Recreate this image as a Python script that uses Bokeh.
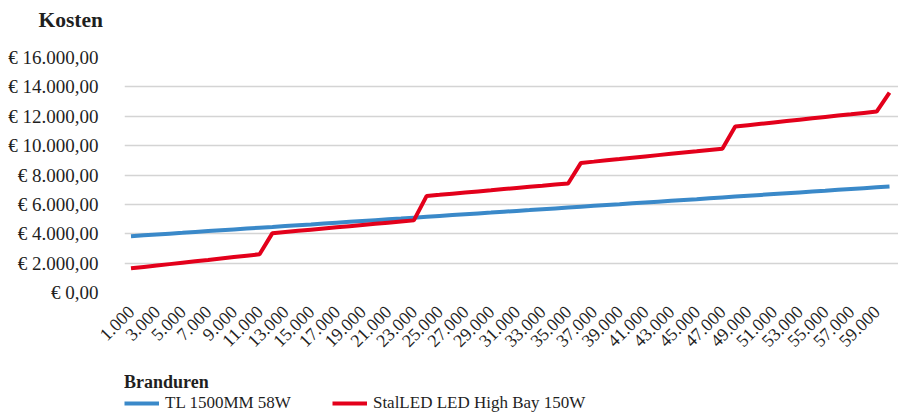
import math
from bokeh.plotting import figure
from bokeh.layouts import column
from bokeh.models import (FixedTicker, Legend, LegendItem, Range1d, Title,
                          ColumnDataSource)
from bokeh.embed import file_html
from bokeh.resources import INLINE

# ---- data -------------------------------------------------------------
hours = list(range(1000, 61000, 1000))          # categories (branduren)
tl_1500mm_58w = [
    3836, 3893, 3951, 4008, 4065, 4123, 4180, 4237, 4294, 4352,
    4409, 4466, 4524, 4581, 4638, 4696, 4753, 4810, 4867, 4925,
    4982, 5039, 5097, 5154, 5211, 5269, 5326, 5383, 5440, 5498,
    5555, 5612, 5670, 5727, 5784, 5842, 5899, 5956, 6013, 6071,
    6128, 6185, 6243, 6300, 6357, 6415, 6472, 6529, 6586, 6644,
    6701, 6758, 6816, 6873, 6930, 6988, 7045, 7102, 7159, 7217,
]
stalled_150w = [
    1644, 1740, 1836, 1932, 2028, 2124, 2219, 2315, 2411, 2507,
    2603, 4041, 4120, 4199, 4278, 4357, 4436, 4516, 4595, 4674,
    4753, 4832, 4911, 6575, 6652, 6730, 6807, 6884, 6961, 7039,
    7116, 7193, 7270, 7348, 7425, 8822, 8910, 8999, 9087, 9176,
    9264, 9353, 9441, 9530, 9618, 9707, 9795, 11301, 11394, 11487,
    11579, 11672, 11765, 11858, 11951, 12044, 12136, 12229, 12322, 13616,
]
y_ticks = [0, 2000, 4000, 6000, 8000, 10000, 12000, 14000, 16000]
series_names = ["TL 1500MM 58W", "StalLED LED High Bay 150W"]
series_colors = ["#3A89C9", "#E3001B"]
y_title = "Kosten"
x_title = "Branduren"

# ---- helpers ----------------------------------------------------------
def nl_int(v):
    return f"{v:,}".replace(",", ".")

def euro(v):
    return "€ " + f"{v:,.2f}".replace(",", "X").replace(".", ",").replace("X", ".")

pos = list(range(1, len(hours) + 1))
src = ColumnDataSource(dict(x=pos, tl=tl_1500mm_58w, led=stalled_150w))

FONT = "Liberation Serif"
TXT = "#1f1f1f"
W = 898

def blank(fig):
    fig.outline_line_color = None
    fig.background_fill_color = "white"
    fig.border_fill_color = "white"
    fig.grid.visible = False

# ---- header strip with the y title -------------------------------------
hdr = figure(width=W, height=40, output_backend="svg", toolbar_location=None,
             x_range=Range1d(0, 1), y_range=Range1d(0, 1),
             min_border_left=124, min_border_right=0, min_border_top=0,
             min_border_bottom=0, x_axis_type=None, y_axis_type=None)
blank(hdr)
hdr.add_layout(Title(text=y_title, align="left", offset=-86, standoff=11,
                     text_font=FONT, text_font_style="bold",
                     text_font_size="21.5px", text_color=TXT), "above")

# ---- main chart ---------------------------------------------------------
p = figure(width=W, height=320, output_backend="svg", toolbar_location=None,
           x_range=Range1d(0.4944, 60.70), y_range=Range1d(0, 16000),
           min_border_left=124, min_border_right=0, min_border_top=17,
           min_border_bottom=68)
p.outline_line_color = None
p.background_fill_color = "white"
p.border_fill_color = "white"

r1 = p.line("x", "tl", source=src, line_color=series_colors[0], line_width=4)
r2 = p.line("x", "led", source=src, line_color=series_colors[1], line_width=4)

p.yaxis.ticker = FixedTicker(ticks=y_ticks)
p.yaxis.major_label_overrides = {t: euro(t) for t in y_ticks}
p.yaxis.axis_line_color = None
p.yaxis.major_tick_line_color = None
p.yaxis.minor_tick_line_color = None
p.yaxis.major_label_standoff = 20
p.yaxis.major_label_text_font = FONT
p.yaxis.major_label_text_font_size = "19px"
p.yaxis.major_label_text_color = TXT

odd = pos[0::2]
p.xaxis.ticker = FixedTicker(ticks=odd)
p.xaxis.major_label_overrides = {i: nl_int(hours[i - 1]) for i in odd}
p.xaxis.major_label_orientation = math.pi / 4
p.xaxis.axis_line_color = None
p.xaxis.major_tick_line_color = None
p.xaxis.minor_tick_line_color = None
p.xaxis.major_label_standoff = 10
p.xaxis.major_label_text_font = FONT
p.xaxis.major_label_text_font_size = "18px"
p.xaxis.major_label_text_color = TXT

p.xgrid.grid_line_color = None
p.ygrid.grid_line_color = "#d4d4d4"
p.ygrid.grid_line_width = 1.6

# ---- legend strip below the chart --------------------------------------
lg = figure(width=W, height=59, output_backend="svg", toolbar_location=None,
            x_range=Range1d(0, 1), y_range=Range1d(0, 1),
            min_border_left=124, min_border_right=0, min_border_top=0,
            min_border_bottom=0, x_axis_type=None, y_axis_type=None)
blank(lg)
d1 = lg.line(x=[-5, -4], y=[-5, -5], line_color=series_colors[0], line_width=4)
d2 = lg.line(x=[-5, -4], y=[-5, -5], line_color=series_colors[1], line_width=4)

legend = Legend(items=[LegendItem(label=series_names[0], renderers=[d1]),
                       LegendItem(label=series_names[1], renderers=[d2])],
                orientation="horizontal", location=(0, 6),
                title=x_title, title_text_font=FONT,
                title_text_font_style="bold", title_text_font_size="18px",
                title_text_color=TXT, title_standoff=0,
                label_text_font=FONT, label_text_font_size="17px",
                label_text_color=TXT,
                glyph_width=35, glyph_height=18, label_height=18,
                label_standoff=6, spacing=41, padding=0, margin=0,
                border_line_alpha=0, background_fill_alpha=0)
lg.add_layout(legend, "center")

open("out.html", "w").write(file_html(column(hdr, p, lg, spacing=0), INLINE))
